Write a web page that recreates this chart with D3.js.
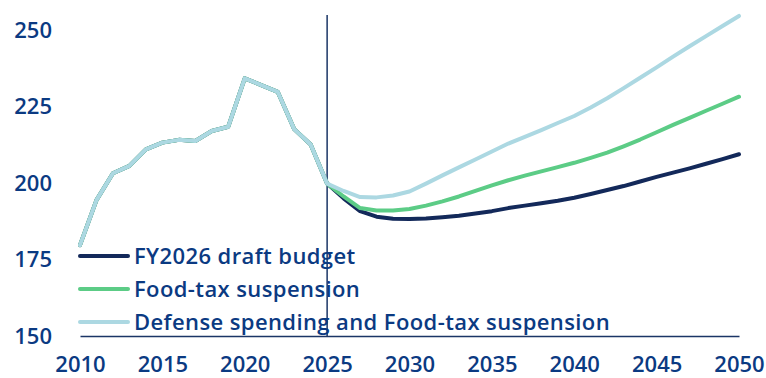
<!DOCTYPE html>
<html>
<head>
<meta charset="utf-8">
<script src="https://d3js.org/d3.v7.min.js"></script>
<style>
  body { margin: 0; background: #fff; }
  svg text { font-family: "Open Sans", sans-serif; font-weight: 600; fill: #0b3a82; }
</style>
</head>
<body>
<script>
// history (shared by all three scenarios)
var histYears = d3.range(2010, 2026);
var histValues = [179.7, 194.4, 203.2, 205.6, 211.0, 213.2, 214.1, 213.7, 217.0, 218.4,
                  234.2, 232.0, 229.8, 217.6, 212.6, 199.8];

// projections 2025-2050
var projYears = d3.range(2025, 2051);
var budget = [199.8, 195.0, 190.8, 189.0, 188.3, 188.2, 188.4, 188.8, 189.3, 190.0,
              190.8, 191.8, 192.6, 193.4, 194.2, 195.2, 196.4, 197.7, 199.0, 200.5,
              202.0, 203.4, 204.8, 206.3, 207.8, 209.4];
var foodTax = [199.8, 195.6, 191.8, 191.0, 191.0, 191.5, 192.6, 194.0, 195.6, 197.4,
               199.2, 200.9, 202.4, 203.8, 205.2, 206.6, 208.2, 209.9, 212.0, 214.2,
               216.6, 219.0, 221.3, 223.6, 225.9, 228.2];
var defense = [199.8, 197.4, 195.4, 195.3, 195.9, 197.2, 199.8, 202.5, 205.1, 207.7,
               210.3, 212.9, 215.1, 217.3, 219.6, 221.9, 224.7, 227.7, 231.0, 234.4,
               237.8, 241.3, 244.7, 248.0, 251.3, 254.6];

var seriesNames = ["FY2026 draft budget", "Food-tax suspension", "Defense spending and Food-tax suspension"];
var seriesValues = [budget, foodTax, defense];
var colors = ["#13295a", "#5ccc86", "#acd8e2"];
var yTicks = [150, 175, 200, 225, 250];
var xTicks = [2010, 2015, 2020, 2025, 2030, 2035, 2040, 2045, 2050];

var W = 766, H = 378;
var svg = d3.select("body").append("svg").attr("width", W).attr("height", H);

var x = d3.scaleLinear().domain([2010, 2050]).range([80, 739]);
var y = d3.scaleLinear().domain([150, 250]).range([336, 30]);

// y labels
svg.append("g").selectAll("text").data(yTicks).join("text")
  .attr("x", 52).attr("y", function(d){ return y(d); })
  .attr("dy", "0.36em")
  .attr("text-anchor", "end")
  .attr("font-size", 22)
  .text(function(d){ return d; });

// x axis
var xAxis = svg.append("g").attr("transform", "translate(0,336)")
  .call(d3.axisBottom(x).tickValues(xTicks).tickFormat(d3.format("d")).tickSize(0).tickPadding(20));
xAxis.select(".domain").attr("stroke", "#1b3566").attr("stroke-width", 1.5);
xAxis.selectAll("text").attr("font-size", 22).attr("fill", "#0b3a82")
  .attr("font-family", "Open Sans, sans-serif").attr("font-weight", 600);

// 2025 divider
svg.append("line")
  .attr("x1", x(2025)).attr("x2", x(2025))
  .attr("y1", 15).attr("y2", 336)
  .attr("stroke", "#1b3566").attr("stroke-width", 1.5);

var line = d3.line()
  .x(function(d){ return x(d[0]); })
  .y(function(d){ return y(d[1]); });

seriesValues.forEach(function(vals, i) {
  var pts = histYears.map(function(yr, j){ return [yr, histValues[j]]; })
    .concat(projYears.slice(1).map(function(yr, j){ return [yr, vals[j + 1]]; }));
  svg.append("path")
    .attr("d", line(pts))
    .attr("fill", "none")
    .attr("stroke", colors[i])
    .attr("stroke-width", 4)
    .attr("stroke-linejoin", "round")
    .attr("stroke-linecap", "round");
});

// legend
var legend = svg.append("g");
seriesNames.forEach(function(name, i) {
  var ly = 256 + i * 33;
  legend.append("line")
    .attr("x1", 80).attr("x2", 128)
    .attr("y1", ly).attr("y2", ly)
    .attr("stroke", colors[i]).attr("stroke-width", 4)
    .attr("stroke-linecap", "round");
  legend.append("text")
    .attr("x", 134).attr("y", ly).attr("dy", "0.35em")
    .attr("font-size", 22)
    .attr("letter-spacing", "0.4px")
    .text(name);
});
</script>
</body>
</html>
